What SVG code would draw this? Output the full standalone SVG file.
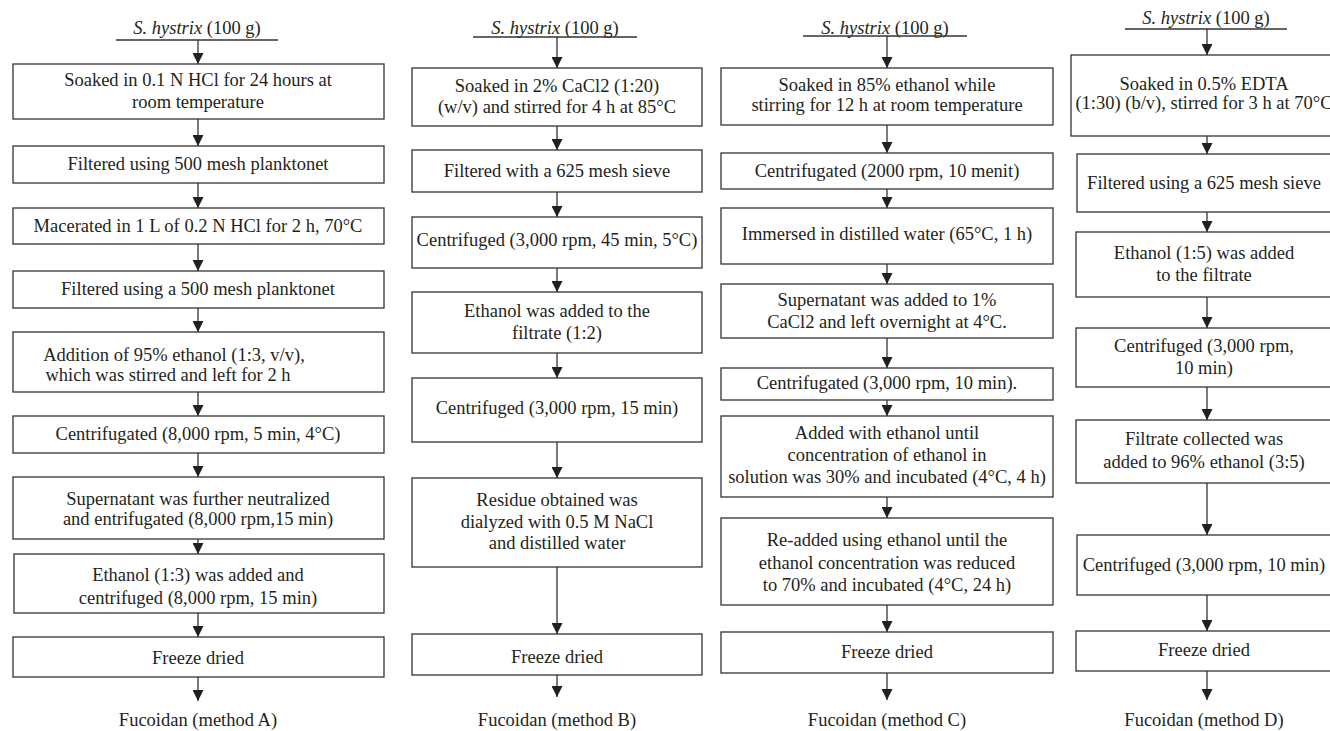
<svg xmlns="http://www.w3.org/2000/svg" width="1330" height="731" viewBox="0 0 1330 731">
<style>
.box{fill:#fff;stroke:#333;stroke-width:1.3}
.t{font-family:"Liberation Serif","Times New Roman",serif;font-size:18.5px;fill:#231f20;text-anchor:middle}
.it{font-style:italic}
.ul{stroke:#333;stroke-width:1.3}
.c{stroke:#333;stroke-width:1.3;fill:none;marker-end:url(#ah)}
</style>
<defs>
<marker id="ah" markerUnits="userSpaceOnUse" markerWidth="12" markerHeight="11" refX="11" refY="5.5" orient="auto" viewBox="0 0 12 11">
<path d="M0,0 L11,5.5 L0,11 z" fill="#231f20"/>
</marker>
</defs>
<rect width="1330" height="731" fill="#fff"/>

<g id="connectors">
<line class="c" x1="198" y1="40" x2="198" y2="64"/>
<line class="c" x1="198" y1="119" x2="198" y2="146"/>
<line class="c" x1="198" y1="183" x2="198" y2="208"/>
<line class="c" x1="198" y1="244" x2="198" y2="271"/>
<line class="c" x1="198" y1="308" x2="198" y2="332"/>
<line class="c" x1="198" y1="392" x2="198" y2="416"/>
<line class="c" x1="198" y1="453" x2="198" y2="477"/>
<line class="c" x1="198" y1="539" x2="198" y2="554"/>
<line class="c" x1="198" y1="613" x2="198" y2="637"/>
<line class="c" x1="198" y1="677" x2="198" y2="701"/>

<line class="c" x1="557" y1="37" x2="557" y2="68"/>
<line class="c" x1="557" y1="126" x2="557" y2="150"/>
<line class="c" x1="557" y1="192" x2="557" y2="217"/>
<line class="c" x1="557" y1="268" x2="557" y2="292"/>
<line class="c" x1="557" y1="353" x2="557" y2="378"/>
<line class="c" x1="557" y1="442" x2="557" y2="478"/>
<line class="c" x1="557" y1="567" x2="557" y2="634"/>
<line class="c" x1="557" y1="675" x2="557" y2="697"/>

<line class="c" x1="887" y1="36" x2="887" y2="68"/>
<line class="c" x1="887" y1="125" x2="887" y2="153"/>
<line class="c" x1="887" y1="189" x2="887" y2="208"/>
<line class="c" x1="887" y1="264" x2="887" y2="284"/>
<line class="c" x1="887" y1="338" x2="887" y2="368"/>
<line class="c" x1="887" y1="400" x2="887" y2="416"/>
<line class="c" x1="887" y1="497" x2="887" y2="518"/>
<line class="c" x1="887" y1="605" x2="887" y2="632"/>
<line class="c" x1="887" y1="673" x2="887" y2="700"/>

<line class="c" x1="1207" y1="29" x2="1207" y2="55"/>
<line class="c" x1="1207" y1="136" x2="1207" y2="154"/>
<line class="c" x1="1207" y1="212" x2="1207" y2="232"/>
<line class="c" x1="1207" y1="297" x2="1207" y2="328"/>
<line class="c" x1="1207" y1="387" x2="1207" y2="420"/>
<line class="c" x1="1207" y1="483" x2="1207" y2="535"/>
<line class="c" x1="1207" y1="595" x2="1207" y2="631"/>
<line class="c" x1="1207" y1="671" x2="1207" y2="700"/>
</g>

<!-- Method A -->
<g id="a-start"><text class="t" x="197" y="34"><tspan class="it">S. hystrix</tspan> (100 g)</text><line class="ul" x1="116" y1="40" x2="278" y2="40"/></g>
<g id="a1"><rect class="box" x="13" y="64" width="371" height="55"/><text class="t" x="198" y="86">Soaked in 0.1 N HCl for 24 hours at</text><text class="t" x="198" y="108">room temperature</text></g>
<g id="a2"><rect class="box" x="13" y="146" width="371" height="37"/><text class="t" x="198" y="170">Filtered using 500 mesh planktonet</text></g>
<g id="a3"><rect class="box" x="13" y="208" width="371" height="36"/><text class="t" x="198" y="232">Macerated in 1 L of 0.2 N HCl for 2 h, 70°C</text></g>
<g id="a4"><rect class="box" x="13" y="271" width="371" height="37"/><text class="t" x="198" y="295">Filtered using a 500 mesh planktonet</text></g>
<g id="a5"><rect class="box" x="13" y="332" width="371" height="60"/><text class="t" x="174" y="361">Addition of 95% ethanol (1:3, v/v),</text><text class="t" x="168" y="381">which was stirred and left for 2 h</text></g>
<g id="a6"><rect class="box" x="13" y="416" width="371" height="37"/><text class="t" x="198" y="440">Centrifugated (8,000 rpm, 5 min, 4°C)</text></g>
<g id="a7"><rect class="box" x="13" y="477" width="371" height="62"/><text class="t" x="198" y="505">Supernatant was further neutralized</text><text class="t" x="198" y="525">and entrifugated (8,000 rpm,15 min)</text></g>
<g id="a8"><rect class="box" x="14" y="554" width="370" height="59"/><text class="t" x="198" y="581">Ethanol (1:3) was added and</text><text class="t" x="198" y="604">centrifuged (8,000 rpm, 15 min)</text></g>
<g id="a9"><rect class="box" x="13" y="637" width="371" height="40"/><text class="t" x="198" y="664">Freeze dried</text></g>
<g id="a-end"><text class="t" x="198" y="726">Fucoidan (method A)</text></g>

<!-- Method B -->
<g id="b-start"><text class="t" x="555" y="34"><tspan class="it">S. hystrix</tspan> (100 g)</text><line class="ul" x1="473" y1="37" x2="637" y2="37"/></g>
<g id="b1"><rect class="box" x="412" y="68" width="290" height="58"/><text class="t" x="557" y="92">Soaked in 2% CaCl2 (1:20)</text><text class="t" x="557" y="113">(w/v) and stirred for 4 h at 85°C</text></g>
<g id="b2"><rect class="box" x="412" y="150" width="290" height="42"/><text class="t" x="557" y="177">Filtered with a 625 mesh sieve</text></g>
<g id="b3"><rect class="box" x="412" y="217" width="290" height="51"/><text class="t" x="557" y="246">Centrifuged (3,000 rpm, 45 min, 5°C)</text></g>
<g id="b4"><rect class="box" x="412" y="292" width="290" height="61"/><text class="t" x="557" y="317">Ethanol was added to the</text><text class="t" x="557" y="339">filtrate (1:2)</text></g>
<g id="b5"><rect class="box" x="412" y="378" width="290" height="64"/><text class="t" x="557" y="414">Centrifuged (3,000 rpm, 15 min)</text></g>
<g id="b6"><rect class="box" x="412" y="478" width="290" height="89"/><text class="t" x="557" y="506">Residue obtained was</text><text class="t" x="557" y="528">dialyzed with 0.5 M NaCl</text><text class="t" x="557" y="549">and distilled water</text></g>
<g id="b7"><rect class="box" x="412" y="634" width="290" height="41"/><text class="t" x="557" y="663">Freeze dried</text></g>
<g id="b-end"><text class="t" x="557" y="726">Fucoidan (method B)</text></g>

<!-- Method C -->
<g id="c-start"><text class="t" x="885" y="34"><tspan class="it">S. hystrix</tspan> (100 g)</text><line class="ul" x1="803" y1="36" x2="967" y2="36"/></g>
<g id="c1"><rect class="box" x="721" y="68" width="332" height="57"/><text class="t" x="887" y="91">Soaked in 85% ethanol while</text><text class="t" x="887" y="111">stirring for 12 h at room temperature</text></g>
<g id="c2"><rect class="box" x="721" y="153" width="332" height="36"/><text class="t" x="887" y="177">Centrifugated (2000 rpm, 10 menit)</text></g>
<g id="c3"><rect class="box" x="721" y="208" width="332" height="56"/><text class="t" x="887" y="240">Immersed in distilled water (65°C, 1 h)</text></g>
<g id="c4"><rect class="box" x="721" y="284" width="332" height="54"/><text class="t" x="887" y="306">Supernatant was added to 1%</text><text class="t" x="887" y="328">CaCl2 and left overnight at 4°C.</text></g>
<g id="c5"><rect class="box" x="721" y="368" width="332" height="32"/><text class="t" x="887" y="389">Centrifugated (3,000 rpm, 10 min).</text></g>
<g id="c6"><rect class="box" x="721" y="416" width="332" height="81"/><text class="t" x="887" y="439">Added with ethanol until</text><text class="t" x="887" y="461">concentration of ethanol in</text><text class="t" x="887" y="483">solution was 30% and incubated (4°C, 4 h)</text></g>
<g id="c7"><rect class="box" x="721" y="518" width="332" height="87"/><text class="t" x="887" y="546">Re-added using ethanol until the</text><text class="t" x="887" y="569">ethanol concentration was reduced</text><text class="t" x="887" y="591">to 70% and incubated (4°C, 24 h)</text></g>
<g id="c8"><rect class="box" x="721" y="632" width="332" height="41"/><text class="t" x="887" y="658">Freeze dried</text></g>
<g id="c-end"><text class="t" x="887" y="726">Fucoidan (method C)</text></g>

<!-- Method D -->
<g id="d-start"><text class="t" x="1206" y="24"><tspan class="it">S. hystrix</tspan> (100 g)</text><line class="ul" x1="1125" y1="29" x2="1287" y2="29"/></g>
<g id="d1"><rect class="box" x="1071" y="55" width="272" height="81"/><text class="t" x="1204" y="90">Soaked in 0.5% EDTA</text><text class="t" x="1204" y="109">(1:30) (b/v), stirred for 3 h at 70°C</text></g>
<g id="d2"><rect class="box" x="1077" y="154" width="266" height="58"/><text class="t" x="1204" y="189">Filtered using a 625 mesh sieve</text></g>
<g id="d3"><rect class="box" x="1076" y="232" width="267" height="65"/><text class="t" x="1204" y="259">Ethanol (1:5) was added</text><text class="t" x="1204" y="281">to the filtrate</text></g>
<g id="d4"><rect class="box" x="1076" y="328" width="267" height="59"/><text class="t" x="1204" y="352">Centrifuged (3,000 rpm,</text><text class="t" x="1204" y="374">10 min)</text></g>
<g id="d5"><rect class="box" x="1076" y="420" width="267" height="63"/><text class="t" x="1204" y="445">Filtrate collected was</text><text class="t" x="1204" y="468">added to 96% ethanol (3:5)</text></g>
<g id="d6"><rect class="box" x="1077" y="535" width="266" height="60"/><text class="t" x="1204" y="571">Centrifuged (3,000 rpm, 10 min)</text></g>
<g id="d7"><rect class="box" x="1076" y="631" width="267" height="40"/><text class="t" x="1204" y="656">Freeze dried</text></g>
<g id="d-end"><text class="t" x="1204" y="726">Fucoidan (method D)</text></g>
</svg>
